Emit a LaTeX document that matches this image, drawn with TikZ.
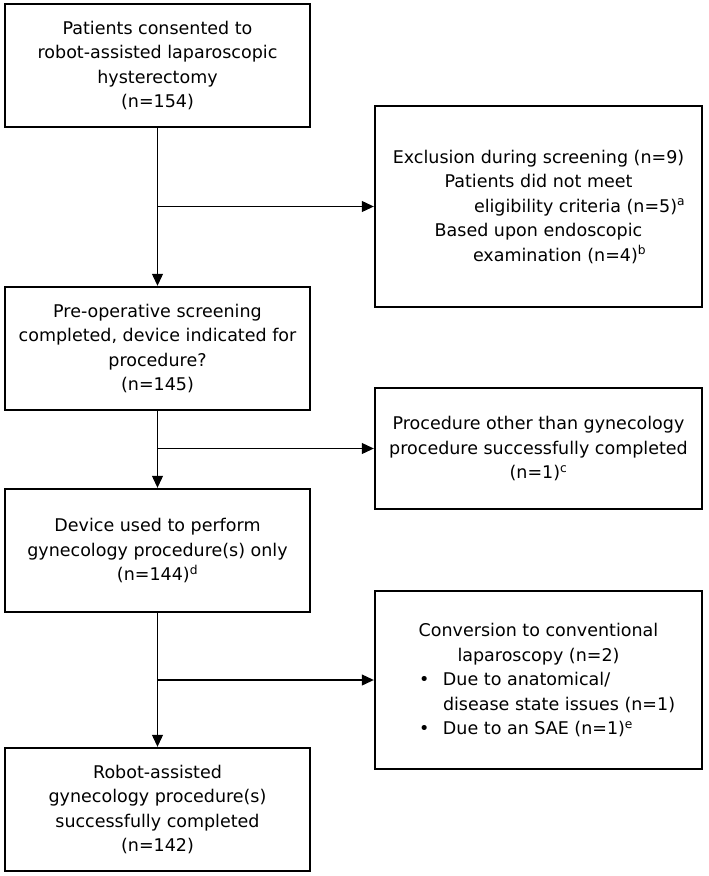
\documentclass[tikz,border=0pt]{standalone}
\usepackage{fontspec}
\setmainfont{DejaVu Sans}
\usetikzlibrary{arrows.meta}
\tikzset{%
    box/.style={rectangle, draw, line width=2.4pt, align=center, inner sep=0pt,
        font=\fontsize{17.5}{24.5}\selectfont},
    lbox/.style={box, minimum width=305pt, minimum height=123pt},
    rbox/.style={box, minimum width=327pt},
    pra/.style={line width=1.1pt, -{Triangle[width=11pt,length=12pt]}},
}

\begin{document}
\begin{tikzpicture}[x=1pt,y=1pt]
    \useasboundingbox (0,0) rectangle (709,-876);
    % left column
    \node [lbox] (cons) at (157.5,-65.5) {Patients consented to\\robot-assisted laparoscopic\\hysterectomy\\(n=154)};
    \node [lbox] (scr) at (157.5,-348.5) {Pre-operative screening\\completed, device indicated for\\procedure?\\(n=145)};
    \node [lbox] (dev) at (157.5,-550.5) {Device used to perform\\gynecology procedure(s) only\\(n=144)\textsuperscript{d}};
    \node [lbox] (done) at (157.5,-809.5) {Robot-assisted\\gynecology procedure(s)\\successfully completed\\(n=142)};
    % right column
    \node [rbox, minimum height=201pt] (excl) at (538.5,-206.5) {Exclusion during screening (n=9)\\
        Patients did not meet\\
        \makebox[327pt][l]{\hspace*{99pt}eligibility criteria (n=5)\textsuperscript{a}}\\
        Based upon endoscopic\\
        \makebox[327pt][l]{\hspace*{98pt}examination (n=4)\textsuperscript{b}}};
    \node [rbox, minimum height=121pt] (oth) at (538.5,-448.5) {Procedure other than gynecology\\procedure successfully completed\\(n=1)\textsuperscript{c}};
    \node [rbox, minimum height=178pt] (conv) at (538.5,-680) {Conversion to conventional\\laparoscopy (n=2)\\
        \makebox[327pt][l]{\hspace*{44pt}\makebox[24pt][l]{•}Due to anatomical/}\\
        \makebox[327pt][l]{\hspace*{68pt}disease state issues (n=1)}\\
        \makebox[327pt][l]{\hspace*{44pt}\makebox[24pt][l]{•}Due to an SAE (n=1)\textsuperscript{e}}};
    % connectors
    \draw [pra] (cons) -- (scr);
    \draw [pra] (scr) -- (dev);
    \draw [pra] (dev) -- (done);
    \draw [pra] (cons.south |- excl.west) -- (excl.west);
    \draw [pra] (scr.south |- oth.west) -- (oth.west);
    \draw [pra] (dev.south |- conv.west) -- (conv.west);
\end{tikzpicture}
\end{document}
